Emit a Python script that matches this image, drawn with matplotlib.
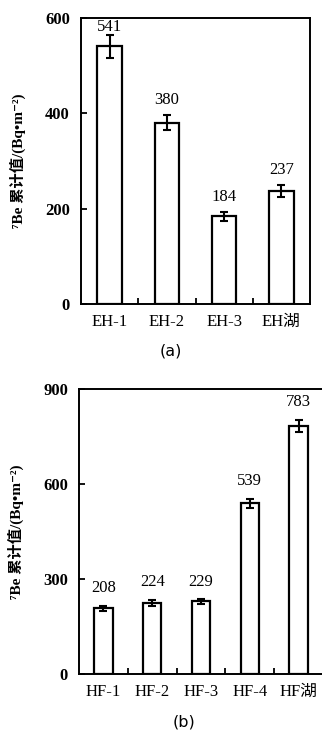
import matplotlib
matplotlib.use("Agg")
import matplotlib.pyplot as plt
import numpy as np

plt.rcParams['font.family'] = ['Liberation Serif', 'Noto Sans CJK SC', 'DejaVu Sans']
plt.rcParams['axes.unicode_minus'] = False

cats_a = ["EH-1", "EH-2", "EH-3", "EH湖"]
vals_a = [541, 380, 184, 237]
errs_a = [24, 16, 9, 12]
yticks_a = [0, 200, 400, 600]

cats_b = ["HF-1", "HF-2", "HF-3", "HF-4", "HF湖"]
vals_b = [208, 224, 229, 539, 783]
errs_b = [8, 9, 7, 15, 20]
yticks_b = [0, 300, 600, 900]

ylabel = "⁷Be 累计值/(Bq•m⁻²)"

fig = plt.figure(figsize=(3.22, 7.35), dpi=100)
ax1 = fig.add_axes([0.2516, 0.5864, 0.7111, 0.3891])
ax2 = fig.add_axes([0.2453, 0.0830, 0.7580, 0.3877])


def draw(ax, cats, vals, errs, yticks, width, pad_pts, caption, cap_x, cap_y):
    x = np.arange(len(cats))
    ax.bar(x, vals, width=width, color='white', edgecolor='black', linewidth=1.6, zorder=2)
    ax.errorbar(x, vals, yerr=errs, fmt='none', ecolor='black', elinewidth=1.5,
                capsize=3.2, capthick=1.5, zorder=3)
    ymax = yticks[-1]
    ax.set_ylim(0, ymax)
    ax.set_xlim(-0.5, len(cats) - 0.5)
    for xi, v, e in zip(x, vals, errs):
        top = v + e
        pad = pad_pts
        if top > ymax * 0.9:
            pad = 0.0
        ax.annotate(str(v), (xi, top), xytext=(0, pad), textcoords='offset points',
                    ha='center', va='bottom', fontsize=12)
    ax.set_yticks(yticks)
    ax.set_yticklabels([str(t) for t in yticks], fontsize=12, fontweight='bold')
    ax.set_xticks(x)
    ax.set_xticklabels(cats, fontsize=12)
    ax.tick_params(axis='x', which='major', length=0, pad=7)
    ax.set_xticks(np.arange(len(cats) - 1) + 0.5, minor=True)
    ax.tick_params(axis='x', which='minor', direction='in', length=4, width=1.3)
    ax.tick_params(axis='y', direction='in', length=4, width=1.3, pad=8)
    for s in ax.spines.values():
        s.set_linewidth(1.4)
    ax.set_ylabel(ylabel, fontsize=11, fontweight='bold', labelpad=14)
    ax.text(cap_x, cap_y, caption, transform=ax.transAxes, ha='center', va='center',
            fontsize=11.5, family=['DejaVu Sans'], color='black')


draw(ax1, cats_a, vals_a, errs_a, yticks_a, 0.43, 5, "(a)", 0.39, -0.165)
draw(ax2, cats_b, vals_b, errs_b, yticks_b, 0.38, 7, "(b)", 0.43, -0.17)

fig.savefig("out.png", dpi=100)
